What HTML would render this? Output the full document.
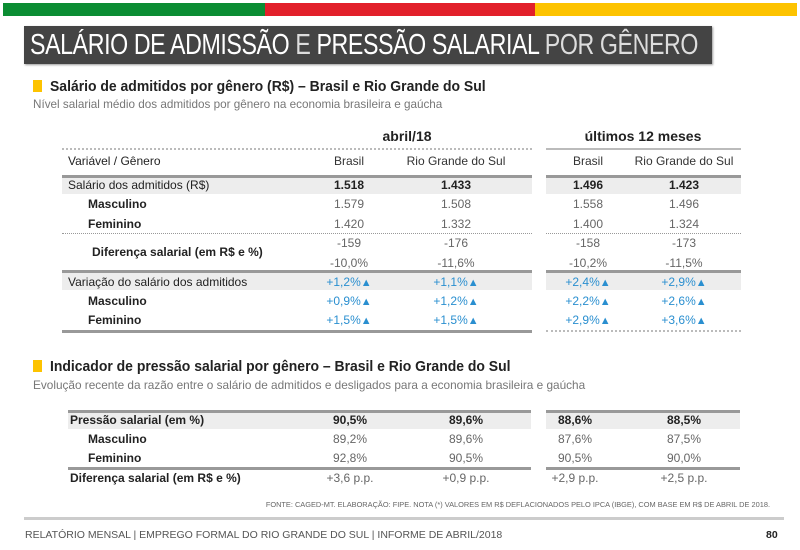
<!DOCTYPE html>
<html><head><meta charset="utf-8"><style>
body{margin:0;width:800px;height:550px;background:#fff;position:relative;overflow:hidden;font-family:"Liberation Sans",sans-serif;}
.a{position:absolute;white-space:nowrap;}
.t{font-size:12px;color:#222;transform:translateY(-50%);}
.b{font-weight:bold;}
.v{font-size:12px;color:#666;transform:translate(-50%,-50%);}
.bl{color:#2a8fd0;}
.ln{position:absolute;height:0;}
.band{position:absolute;background:#ededed;}
</style></head><body>
<div class="a" style="left:3px;top:3px;width:262px;height:13px;background:#0b8d33"></div>
<div class="a" style="left:265px;top:3px;width:270px;height:13px;background:#e2202a"></div>
<div class="a" style="left:535px;top:3px;width:262px;height:13px;background:#fdc300"></div>
<div class="a" style="left:24px;top:26px;width:688px;height:38px;background:#444;box-shadow:1px 1px 2px #999"></div>
<div class="a" style="left:30px;top:29px;font-size:29px;color:#fff;transform:scaleX(0.8);transform-origin:left top;letter-spacing:-0.5px">SALÁRIO DE ADMISSÃO <span style="font-weight:normal;color:#ddd">E</span> PRESSÃO SALARIAL <span style="color:#ddd">POR GÊNERO</span></div>

<div class="a" style="left:33px;top:80px;width:9px;height:12px;background:#fdc300"></div>
<div class="a b" style="left:50px;top:78px;font-size:15px;color:#222;transform:scaleX(0.93);transform-origin:left top">Salário de admitidos por gênero (R$) – Brasil e Rio Grande do Sul</div>
<div class="a" style="left:33px;top:98px;font-size:11.7px;color:#777">Nível salarial médio dos admitidos por gênero na economia brasileira e gaúcha</div>

<div class="a b" style="left:407px;top:136px;font-size:14px;color:#222;transform:translate(-50%,-50%)">abril/18</div>
<div class="a b" style="left:643px;top:136px;font-size:14px;color:#222;transform:translate(-50%,-50%)">últimos 12 meses</div>
<div class="ln" style="left:62px;top:148px;width:470px;border-top:2px dotted #bbb"></div>
<div class="ln" style="left:546px;top:148px;width:195px;border-top:2px solid #bbb"></div>

<div class="band" style="left:62px;top:177px;width:470px;height:17px"></div>
<div class="band" style="left:546px;top:177px;width:195px;height:17px"></div>
<div class="band" style="left:62px;top:273px;width:470px;height:17px"></div>
<div class="band" style="left:546px;top:273px;width:195px;height:17px"></div>
<div class="ln" style="left:62px;top:175px;width:470px;border-top:3px solid #999"></div>
<div class="ln" style="left:546px;top:175px;width:195px;border-top:3px solid #999"></div>
<div class="ln" style="left:62px;top:233px;width:470px;border-top:1px dotted #999"></div>
<div class="ln" style="left:546px;top:233px;width:195px;border-top:1px dotted #999"></div>
<div class="ln" style="left:62px;top:270px;width:470px;border-top:3px solid #999"></div>
<div class="ln" style="left:546px;top:270px;width:195px;border-top:3px solid #999"></div>
<div class="ln" style="left:62px;top:330px;width:470px;border-top:3px solid #999"></div>
<div class="ln" style="left:546px;top:330px;width:195px;border-top:2px dotted #bbb"></div>

<div id="t1"></div>

<div class="a" style="left:33px;top:360px;width:9px;height:12px;background:#fdc300"></div>
<div class="a b" style="left:50px;top:358px;font-size:15px;color:#222;transform:scaleX(0.93);transform-origin:left top">Indicador de pressão salarial por gênero – Brasil e Rio Grande do Sul</div>
<div class="a" style="left:33px;top:378px;font-size:11.8px;color:#777">Evolução recente da razão entre o salário de admitidos e desligados para a economia brasileira e gaúcha</div>

<div class="band" style="left:68px;top:413px;width:463px;height:16px"></div>
<div class="band" style="left:546px;top:413px;width:194px;height:16px"></div>
<div class="ln" style="left:68px;top:410px;width:463px;border-top:3px solid #999"></div>
<div class="ln" style="left:546px;top:410px;width:194px;border-top:3px solid #999"></div>
<div class="ln" style="left:68px;top:467px;width:463px;border-top:3px solid #999"></div>
<div class="ln" style="left:546px;top:467px;width:194px;border-top:3px solid #999"></div>
<div id="t2"></div>

<div class="a" style="left:770px;top:500px;font-size:7.4px;color:#666;transform:translateX(-100%)">FONTE: CAGED-MT. ELABORAÇÃO: FIPE. NOTA (*) VALORES EM R$ DEFLACIONADOS PELO IPCA (IBGE), COM BASE EM R$ DE ABRIL DE 2018.</div>
<div class="ln" style="left:24px;top:517px;width:760px;border-top:3px solid #ccc"></div>
<div class="a" style="left:25px;top:529px;font-size:10.5px;color:#555">RELATÓRIO MENSAL | EMPREGO FORMAL DO RIO GRANDE DO SUL | INFORME DE ABRIL/2018</div>
<div class="a b" style="left:766px;top:529px;font-size:10.5px;color:#222">80</div>

<script>
const cols1=[349,456,588,684];
const header1=["Brasil","Rio Grande do Sul","Brasil","Rio Grande do Sul"];
const rows1Labels=["Salário dos admitidos (R$)","Masculino","Feminino","Variação do salário dos admitidos","Masculino","Feminino"];
const rows1Y=[185,204,224,282,301,320];
const rows1Vals=[["1.518","1.433","1.496","1.423"],["1.579","1.508","1.558","1.496"],["1.420","1.332","1.400","1.324"],["+1,2%","+1,1%","+2,4%","+2,9%"],["+0,9%","+1,2%","+2,2%","+2,6%"],["+1,5%","+1,5%","+2,9%","+3,6%"]];
const difAbs=["-159","-176","-158","-173"];
const difPct=["-10,0%","-11,6%","-10,2%","-11,5%"];
const cols2=[350,466,575,684];
const rows2Labels=["Pressão salarial (em %)","Masculino","Feminino","Diferença salarial (em R$ e %)"];
const rows2Y=[420,439,458,478];
const rows2Vals=[["90,5%","89,6%","88,6%","88,5%"],["89,2%","89,6%","87,6%","87,5%"],["92,8%","90,5%","90,5%","90,0%"],["+3,6 p.p.","+0,9 p.p.","+2,9 p.p.","+2,5 p.p."]];
function add(parent,cls,x,y,txt,name){const d=document.createElement('div');d.className='a '+cls;d.style.left=x+'px';d.style.top=y+'px';d.innerHTML=txt;


parent.appendChild(d);return d;}
const t1=document.getElementById('t1'),t2=document.getElementById('t2');
add(t1,'t',68,161,'Variável / Gênero','header-variavel');
header1.forEach((h,i)=>add(t1,'v',cols1[i],161,h,'header-col').style.color='#333');
rows1Labels.forEach((l,r)=>{const main=(r===0||r===3);
 add(t1,'t'+(main?'':' b'),main?68:88,rows1Y[r],l,'row-label');
 rows1Vals[r].forEach((v,i)=>{const blue=r>=3;const e=add(t1,'v'+(blue?' bl':'')+(r===0?' b':''),cols1[i],rows1Y[r],v+(blue?'<span style="font-size:11px">▲</span>':''),'cell-value');if(r===0)e.style.color='#222';});});
add(t1,'t b',92,252,'Diferença salarial (em R$ e %)','row-label');
difAbs.forEach((v,i)=>add(t1,'v',cols1[i],243,v,'cell-value'));
difPct.forEach((v,i)=>add(t1,'v',cols1[i],263,v,'cell-value'));
rows2Labels.forEach((l,r)=>{const main=(r===0||r===3);
 add(t2,'t b',main?70:88,rows2Y[r],l,'row-label');
 rows2Vals[r].forEach((v,i)=>{const e=add(t2,'v'+(r===0?' b':''),cols2[i],rows2Y[r],v,'cell-value');if(r===0)e.style.color='#222';});});
</script>
</body></html>
